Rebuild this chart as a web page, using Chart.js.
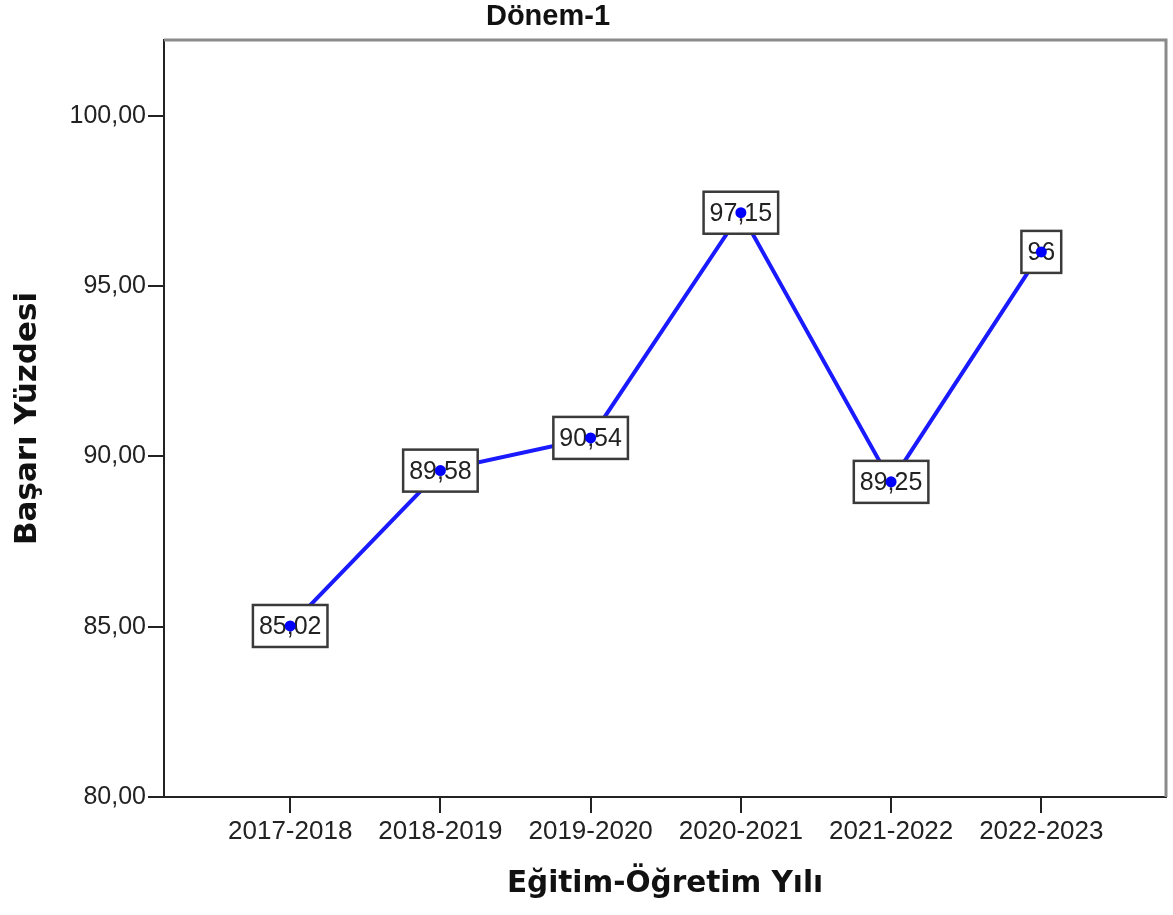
<!DOCTYPE html>
<html>
<head>
<meta charset="utf-8">
<script src="https://cdn.jsdelivr.net/npm/chart.js@4.4.1/dist/chart.umd.min.js"></script>
<style>
  html, body { margin: 0; padding: 0; background: #fff; }
  #wrap { width: 1173px; height: 915px; }
</style>
</head>
<body>
<div id="wrap"><canvas id="c" width="1173" height="915"></canvas></div>
<script>
const categories = ['2017-2018', '2018-2019', '2019-2020', '2020-2021', '2021-2022', '2022-2023'];
const values = [85.02, 89.58, 90.54, 97.15, 89.25, 96];
const valueLabels = ['85,02', '89,58', '90,54', '97,15', '89,25', '96'];
const yTicks = [80, 85, 90, 95, 100];
const chartTitle = 'Dönem-1';
const xTitle = 'Eğitim-Öğretim Yılı';
const yTitle = 'Başarı Yüzdesi';

const pts = values.map((v, i) => ({ x: i, y: v }));

const framePlugin = {
  id: 'frame',
  beforeDatasetsDraw(chart) {
    const { ctx, chartArea: a } = chart;
    ctx.save();
    ctx.strokeStyle = '#8a8a8a';
    ctx.lineWidth = 3;
    ctx.beginPath();
    ctx.moveTo(a.left, a.top);
    ctx.lineTo(a.right, a.top);
    ctx.lineTo(a.right, a.bottom);
    ctx.stroke();
    ctx.restore();
  },
  afterDraw(chart) {
    const { ctx } = chart;
    ctx.save();
    ctx.font = 'bold 29px "Liberation Sans Narrow", "Liberation Sans", Arial, sans-serif';
    ctx.fillStyle = '#111';
    ctx.textAlign = 'center';
    ctx.textBaseline = 'middle';
    ctx.fillText(chartTitle, 548, 17);
    ctx.restore();
  }
};

const labelPlugin = {
  id: 'boxLabels',
  afterDatasetDraw(chart, args) {
    if (args.index !== 0) return;
    const { ctx } = chart;
    const meta = chart.getDatasetMeta(0);
    ctx.save();
    ctx.font = '25px "Liberation Sans", Arial, sans-serif';
    ctx.textAlign = 'center';
    ctx.textBaseline = 'middle';
    meta.data.forEach((el, i) => {
      const t = valueLabels[i];
      const w = ctx.measureText(t).width + 12;
      const h = 42;
      const x = el.x, y = el.y;
      ctx.fillStyle = '#fff';
      ctx.fillRect(x - w / 2, y - h / 2, w, h);
      ctx.strokeStyle = '#3a3a3a';
      ctx.lineWidth = 2.5;
      ctx.strokeRect(x - w / 2, y - h / 2, w, h);
      ctx.fillStyle = '#222';
      ctx.fillText(t, x, y + 1);
    });
    ctx.restore();
  }
};

new Chart(document.getElementById('c'), {
  type: 'scatter',
  data: {
    datasets: [
      {
        data: pts,
        showLine: true,
        borderColor: '#1a1aff',
        borderWidth: 4,
        pointRadius: 0,
        fill: false,
        order: 2
      },
      {
        data: pts,
        showLine: false,
        pointRadius: 5.5,
        pointBackgroundColor: '#0000ff',
        pointBorderWidth: 0,
        order: 1
      }
    ]
  },
  options: {
    responsive: false,
    animation: false,
    events: [],
    layout: { padding: { top: 40, right: 7, left: 0, bottom: 0 } },
    plugins: { legend: { display: false }, tooltip: { enabled: false }, title: { display: false } },
    scales: {
      x: {
        type: 'linear',
        min: -0.84,
        max: 5.83,
        afterBuildTicks: s => { s.ticks = categories.map((c, i) => ({ value: i })); },
        afterFit: s => { s.height = 118; },
        ticks: {
          callback: v => categories[v] ?? '',
          font: { family: '"Liberation Sans", Arial, sans-serif', size: 26 },
          color: '#222',
          padding: 3,
          maxRotation: 0,
          autoSkip: false
        },
        grid: { drawOnChartArea: false, drawTicks: true, tickLength: 16, color: '#222', lineWidth: 2 },
        border: { display: true, color: '#222', width: 2 },
        title: {
          display: true,
          text: xTitle,
          font: { family: '"DejaVu Sans", Verdana, sans-serif', size: 29.5, weight: 'bold' },
          color: '#111',
          padding: { top: 0, bottom: 13 }
        }
      },
      y: {
        type: 'linear',
        min: 80,
        max: 102.22,
        afterBuildTicks: s => { s.ticks = yTicks.map(v => ({ value: v })); },
        afterFit: s => { s.width = 164; },
        ticks: {
          callback: v => v.toFixed(2).replace('.', ','),
          font: { family: '"Liberation Sans", Arial, sans-serif', size: 25 },
          color: '#222',
          padding: 2
        },
        grid: { drawOnChartArea: false, drawTicks: true, tickLength: 16, color: '#222', lineWidth: 2 },
        border: { display: true, color: '#222', width: 2 },
        title: {
          display: true,
          text: yTitle,
          font: { family: '"DejaVu Sans", Verdana, sans-serif', size: 31, weight: 'bold' },
          color: '#111',
          padding: { top: 9, bottom: 0 }
        }
      }
    }
  },
  plugins: [framePlugin, labelPlugin]
});
</script>
</body>
</html>
